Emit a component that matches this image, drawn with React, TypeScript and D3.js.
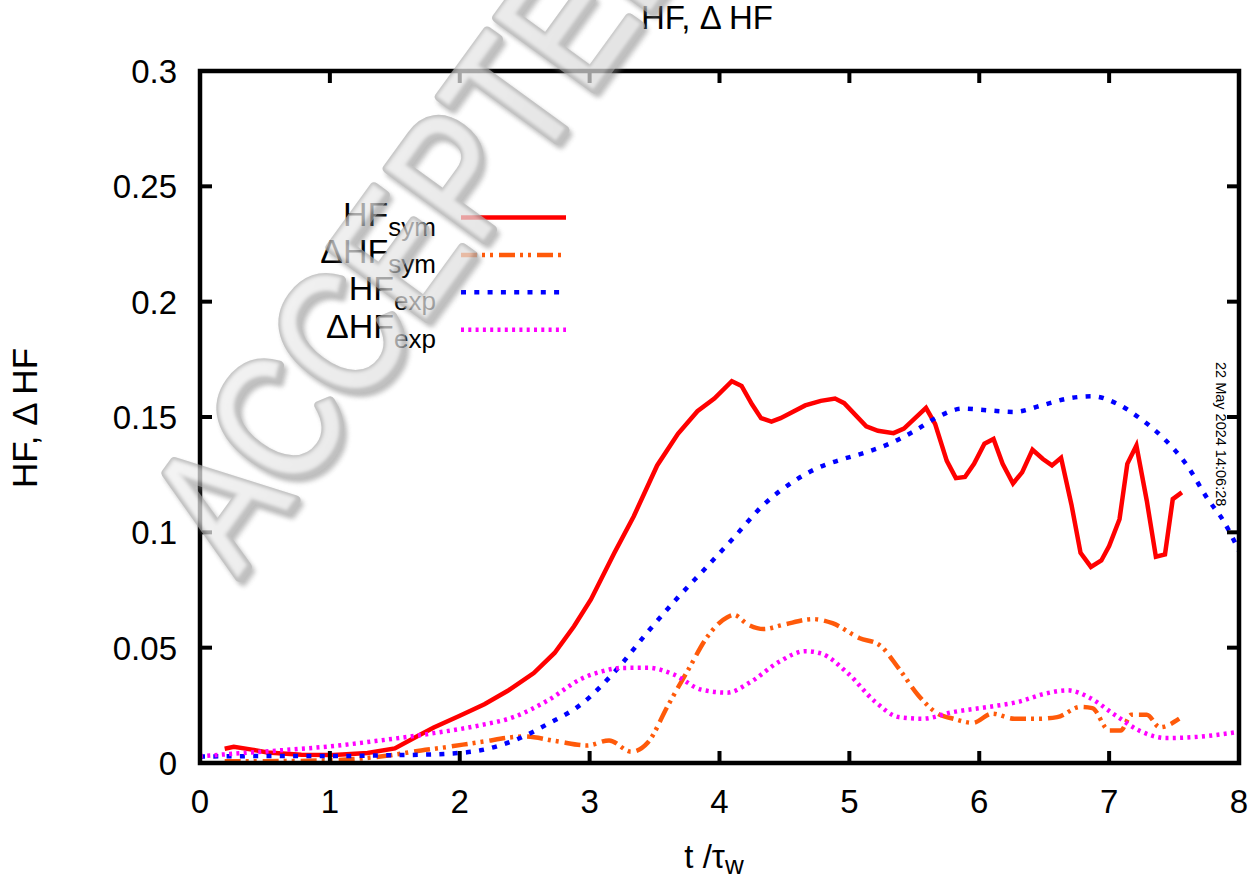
import React from "react";
import * as d3 from "d3";

// ---- data ----
const xTicks = [0, 1, 2, 3, 4, 5, 6, 7, 8];
const yTicks = [0, 0.05, 0.1, 0.15, 0.2, 0.25, 0.3];
const yTickLabels = ["0", "0.05", "0.1", "0.15", "0.2", "0.25", "0.3"];

const hfSym: [number, number][] = [
  [0.19, 0.0062], [0.26, 0.007], [0.4, 0.0058], [0.52, 0.0046], [0.78, 0.0036], [1.03, 0.0035],
  [1.29, 0.0043], [1.5, 0.0063], [1.68, 0.0118], [1.8, 0.0154], [2.0, 0.0205], [2.19, 0.0255],
  [2.37, 0.0313], [2.57, 0.039], [2.73, 0.0477], [2.88, 0.0593], [3.01, 0.0709], [3.19, 0.091],
  [3.34, 0.107], [3.52, 0.129], [3.68, 0.1427], [3.83, 0.1525], [3.96, 0.158], [4.095, 0.1655],
  [4.17, 0.1635], [4.25, 0.1555], [4.32, 0.1495], [4.4, 0.148], [4.47, 0.1495], [4.66, 0.155],
  [4.78, 0.157], [4.89, 0.158], [4.96, 0.156], [5.13, 0.146], [5.22, 0.144], [5.34, 0.143],
  [5.42, 0.145], [5.59, 0.154], [5.66, 0.147], [5.75, 0.131], [5.82, 0.1235], [5.89, 0.124],
  [5.96, 0.1297], [6.04, 0.1384], [6.11, 0.1405], [6.18, 0.1297], [6.26, 0.1212], [6.33, 0.126],
  [6.41, 0.1358], [6.49, 0.1318], [6.56, 0.129], [6.63, 0.1323], [6.71, 0.112], [6.78, 0.0911],
  [6.86, 0.085], [6.94, 0.0878], [7.0, 0.094], [7.08, 0.1057], [7.14, 0.1297], [7.21, 0.1376],
  [7.29, 0.1137], [7.36, 0.0894], [7.43, 0.0904], [7.49, 0.1144], [7.56, 0.1173],
];

const dHfSym: [number, number][] = [
  [0.19, 0.0008], [0.5, 0.0008], [1.0, 0.0012], [1.25, 0.002], [1.52, 0.0038], [1.65, 0.005],
  [1.9, 0.0069], [2.16, 0.0091], [2.5, 0.0115], [2.75, 0.0094], [2.98, 0.0076], [3.15, 0.0098],
  [3.32, 0.0049], [3.45, 0.009], [3.6, 0.0246], [3.76, 0.0405], [3.91, 0.055], [4.06, 0.0632],
  [4.11, 0.0642], [4.22, 0.06], [4.34, 0.0581], [4.49, 0.0599], [4.72, 0.0624], [4.87, 0.0606],
  [5.08, 0.0541], [5.23, 0.0512], [5.38, 0.041], [5.53, 0.0294], [5.68, 0.0214], [5.8, 0.0192],
  [5.95, 0.0174], [6.1, 0.0214], [6.27, 0.0192], [6.45, 0.0192], [6.6, 0.0199], [6.78, 0.0243],
  [6.87, 0.0238], [7.0, 0.0141], [7.09, 0.0141], [7.17, 0.0209], [7.29, 0.0209], [7.39, 0.0155],
  [7.54, 0.0192],
];

const hfExp: [number, number][] = [
  [0, 0.0028], [0.5, 0.003], [1.0, 0.003], [1.39, 0.0033], [1.7, 0.0036], [1.9, 0.004],
  [2.16, 0.0055], [2.42, 0.0098], [2.68, 0.017], [2.94, 0.0257], [3.2, 0.04], [3.45, 0.057],
  [3.68, 0.0718], [3.9, 0.0849], [4.11, 0.0977], [4.34, 0.112], [4.56, 0.1217], [4.74, 0.1275],
  [4.93, 0.1314], [5.13, 0.1347], [5.32, 0.1387], [5.5, 0.1439], [5.68, 0.15], [5.87, 0.1536],
  [6.07, 0.1529], [6.27, 0.1522], [6.48, 0.155], [6.68, 0.158], [6.87, 0.159], [7.06, 0.1558],
  [7.24, 0.1493], [7.41, 0.1413], [7.6, 0.129], [7.76, 0.1144], [7.88, 0.105], [8.0, 0.092],
];

const dHfExp: [number, number][] = [
  [0, 0.0029], [0.3, 0.0042], [0.62, 0.0055], [1.0, 0.0072], [1.39, 0.0098], [1.77, 0.0127],
  [2.16, 0.0164], [2.42, 0.02], [2.68, 0.0272], [2.94, 0.0366], [3.1, 0.0398], [3.24, 0.0412],
  [3.45, 0.0413], [3.65, 0.0383], [3.86, 0.0318], [4.06, 0.0305], [4.23, 0.0348], [4.46, 0.0439],
  [4.66, 0.0485], [4.78, 0.0475], [4.99, 0.0388], [5.2, 0.0265], [5.38, 0.0199], [5.56, 0.0192],
  [5.8, 0.0221], [6.07, 0.0243], [6.3, 0.0265], [6.51, 0.0301], [6.68, 0.0315], [6.84, 0.0286],
  [7.05, 0.0206], [7.23, 0.0141], [7.44, 0.0108], [7.65, 0.0112], [8.0, 0.0135],
];

const legendMain = ["HF", "\u0394HF", "HF", "\u0394HF"];
const legendSub = ["sym", "sym", "exp", "exp"];
const titleText = "HF, \u0394 HF";
const yLabel = "HF, \u0394 HF";
const stamp = "22 May 2024 14:06:28";
const watermark = "ACCEPTED";

// ---- layout ----
const W = 1256;
const H = 878;
const M = { left: 200, right: 1239, top: 71, bottom: 763 };
const FONT = "'Liberation Sans', Arial, Helvetica, sans-serif";

export default function App() {
  const x = d3.scaleLinear().domain([0, 8]).range([M.left, M.right]);
  const y = d3.scaleLinear().domain([0, 0.3]).range([M.bottom, M.top]);

  const lineLin = d3.line<[number, number]>().x((d) => x(d[0])).y((d) => y(d[1]));
  const lineSmooth = d3
    .line<[number, number]>()
    .x((d) => x(d[0]))
    .y((d) => y(d[1]))
    .curve(d3.curveMonotoneX);

  const series = [
    { data: hfSym, color: "#ff0000", dash: undefined as string | undefined, gen: lineLin },
    { data: dHfSym, color: "#ff5a0a", dash: "16,5,3,5,3,6", gen: lineSmooth },
    { data: hfExp, color: "#0000ff", dash: "5,8.3", gen: lineSmooth },
    { data: dHfExp, color: "#ff00ff", dash: "3,4.3", gen: lineSmooth },
  ];

  const tickLen = 12;
  const innerX = xTicks.slice(1, -1);
  const innerY = yTicks.slice(1, -1);

  const legendY0 = 217.5;
  const legendStep = 37.4;

  const wmTransform = `translate(239, 578) rotate(-54) scale(1, 1.2)`;

  return (
    <svg width={W} height={H} style={{ position: "absolute", left: 0, top: 0, background: "#fff" }}>
      <defs>
        <clipPath id="plotclip">
          <rect x={M.left} y={M.top} width={M.right - M.left} height={M.bottom - M.top} />
        </clipPath>
        <linearGradient id="wmgrad" x1="0" y1="0" x2="1" y2="1">
          <stop offset="0" stopColor="#f4f4f4" />
          <stop offset="1" stopColor="#d4d4d4" />
        </linearGradient>
        <filter id="wmblur" x="-10%" y="-10%" width="120%" height="120%">
          <feGaussianBlur stdDeviation="2" />
        </filter>
        <filter id="wmsoft" x="-10%" y="-10%" width="120%" height="120%">
          <feGaussianBlur stdDeviation="1.5" />
        </filter>
      </defs>
      <rect x={0} y={0} width={W} height={H} fill="#fff" />

      {/* series */}
      <g clipPath="url(#plotclip)">
        {series.map((s, i) => (
          <path
            key={i}
            d={s.gen(s.data) || ""}
            fill="none"
            stroke={s.color}
            strokeWidth={4.5}
            strokeDasharray={s.dash}
            strokeLinejoin="miter"
          />
        ))}
      </g>

      {/* frame */}
      <rect
        x={M.left}
        y={M.top}
        width={M.right - M.left}
        height={M.bottom - M.top}
        fill="none"
        stroke="#000"
        strokeWidth={4.5}
      />
      {innerX.map((t) => (
        <g key={"xt" + t}>
          <line x1={x(t)} x2={x(t)} y1={M.bottom} y2={M.bottom - tickLen} stroke="#000" strokeWidth={4} />
          <line x1={x(t)} x2={x(t)} y1={M.top} y2={M.top + tickLen} stroke="#000" strokeWidth={4} />
        </g>
      ))}
      {innerY.map((t) => (
        <g key={"yt" + t}>
          <line x1={M.left} x2={M.left + tickLen} y1={y(t)} y2={y(t)} stroke="#000" strokeWidth={4} />
          <line x1={M.right} x2={M.right - tickLen} y1={y(t)} y2={y(t)} stroke="#000" strokeWidth={4} />
        </g>
      ))}

      {/* tick labels */}
      <g fontFamily={FONT} fontSize={33} fill="#000">
        {xTicks.map((t) => (
          <text key={"xl" + t} x={x(t)} y={M.bottom + 50} textAnchor="middle">
            {String(t)}
          </text>
        ))}
        {yTicks.map((t, i) => (
          <text key={"yl" + t} x={M.left - 23} y={y(t)} dy="0.36em" textAnchor="end">
            {yTickLabels[i]}
          </text>
        ))}
      </g>

      {/* axis labels & title */}
      <text x={714} y={868} textAnchor="middle" fontFamily={FONT} fontSize={33}>
        t /τ
        <tspan dy={6} fontSize={26}>
          w
        </tspan>
      </text>
      <text
        transform={`translate(37, 418) rotate(-90)`}
        textAnchor="middle"
        fontFamily={FONT}
        fontSize={35}
      >
        {yLabel}
      </text>
      <text x={707} y={29} textAnchor="middle" fontFamily={FONT} fontSize={33}>
        {titleText}
      </text>

      {/* legend */}
      <g fontFamily={FONT}>
        {series.map((s, i) => {
          const ly = legendY0 + i * legendStep;
          return (
            <g key={"lg" + i}>
              <text x={436} y={ly + 8} textAnchor="end" fontSize={34}>
                {legendMain[i]}
                <tspan dy={10} fontSize={26}>
                  {legendSub[i]}
                </tspan>
              </text>
              <line
                x1={461}
                x2={566}
                y1={ly}
                y2={ly}
                stroke={s.color}
                strokeWidth={4.5}
                strokeDasharray={s.dash}
              />
            </g>
          );
        })}
      </g>

      {/* time stamp */}
      <text
        transform={`translate(1216, 362) rotate(90)`}
        fontFamily={FONT}
        fontSize={14.5}
        fill="#000"
      >
        {stamp}
      </text>

      {/* watermark: layered 3D-looking gray letters, semi-transparent over the plot */}
      <g opacity={0.72} fontFamily={FONT} fontSize={146}>
        <text
          transform={`translate(3, 4) ${wmTransform}`}
          fill="#7a7a7a"
          stroke="#7a7a7a"
          strokeWidth={8}
          strokeLinejoin="round"
          filter="url(#wmblur)"
          opacity={0.7}
        >
          {watermark}
        </text>
        <text
          transform={wmTransform}
          fill="#a9a9a9"
          stroke="#a9a9a9"
          strokeWidth={8}
          strokeLinejoin="round"
        >
          {watermark}
        </text>
        <text
          transform={`translate(-1.5, -1.5) ${wmTransform}`}
          fill="url(#wmgrad)"
          stroke="#dcdcdc"
          strokeWidth={2}
          strokeLinejoin="round"
          filter="url(#wmsoft)"
        >
          {watermark}
        </text>
      </g>
    </svg>
  );
}
